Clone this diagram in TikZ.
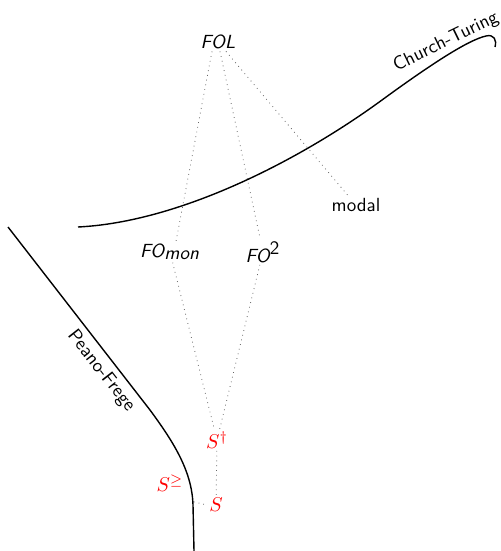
\documentclass[tikz,border=0pt]{standalone}
\usepackage{amssymb}
\begin{document}
\begin{tikzpicture}[x=0.5pt,y=-0.5pt,
  lbl/.style={font=\fontsize{9.5}{11}\selectfont\sffamily, inner sep=1pt},
  mth/.style={font=\fontsize{9.5}{11}\selectfont\sffamily\itshape, inner sep=1pt},
  red/.style={text=red, font=\fontsize{10}{12}\selectfont, inner sep=1pt},
  dots/.style={dotted, gray!80!black, line width=0.4pt},
  border/.style={line width=0.7pt}]
\useasboundingbox (0,0) rectangle (500,551);
% nodes
\node[mth] (FOL) at (218,42) {FOL};
\node[mth] (FOmon) at (170,252) {FO$_{\textsf{\itshape mon}}$};
\node[mth] (FO2) at (263,252) {FO$^{\textsf{\upshape 2}}$};
\node[lbl] (modal) at (356,205) {modal};
\node[red] (Sd) at (217,440) {$S^{\dagger}$};
\node[red] (Sge) at (170,483) {$S^{\geq}$};
\node[red] (S) at (216,505) {$S$};
% dotted connectors
\draw[dots] (FOL.south) ++(-6,0) coordinate (a1) (a1) -- (FOmon.north -| 176,0);
\draw[dots] (FOL) -- (FO2);
\draw[dots] (FOL) -- (modal);
\draw[dots] (FOmon) -- (Sd);
\draw[dots] (FO2) -- (Sd);
\draw[dots] (Sd) -- (S);
\draw[dots] (Sge.south east) ++(8,8) coordinate (g1) (g1) -- (S.west);
% Church-Turing
\draw[border] (78,227) .. controls (180,222) and (300,160) .. (382,100)
  .. controls (430,65) and (468,40) .. (486,36)
  .. controls (494,34) and (497,40) .. (495,47);
\node[lbl, rotate=26] (CT) at (446,42) {Church-Turing};
% Peano-Frege
\draw[border] (8,227) -- (150,410) .. controls (172,440) and (192,470) .. (193,505) -- (194,551);
\node[lbl, rotate=-52] (PF) at (101,371) {Peano-Frege};
\end{tikzpicture}
\end{document}
